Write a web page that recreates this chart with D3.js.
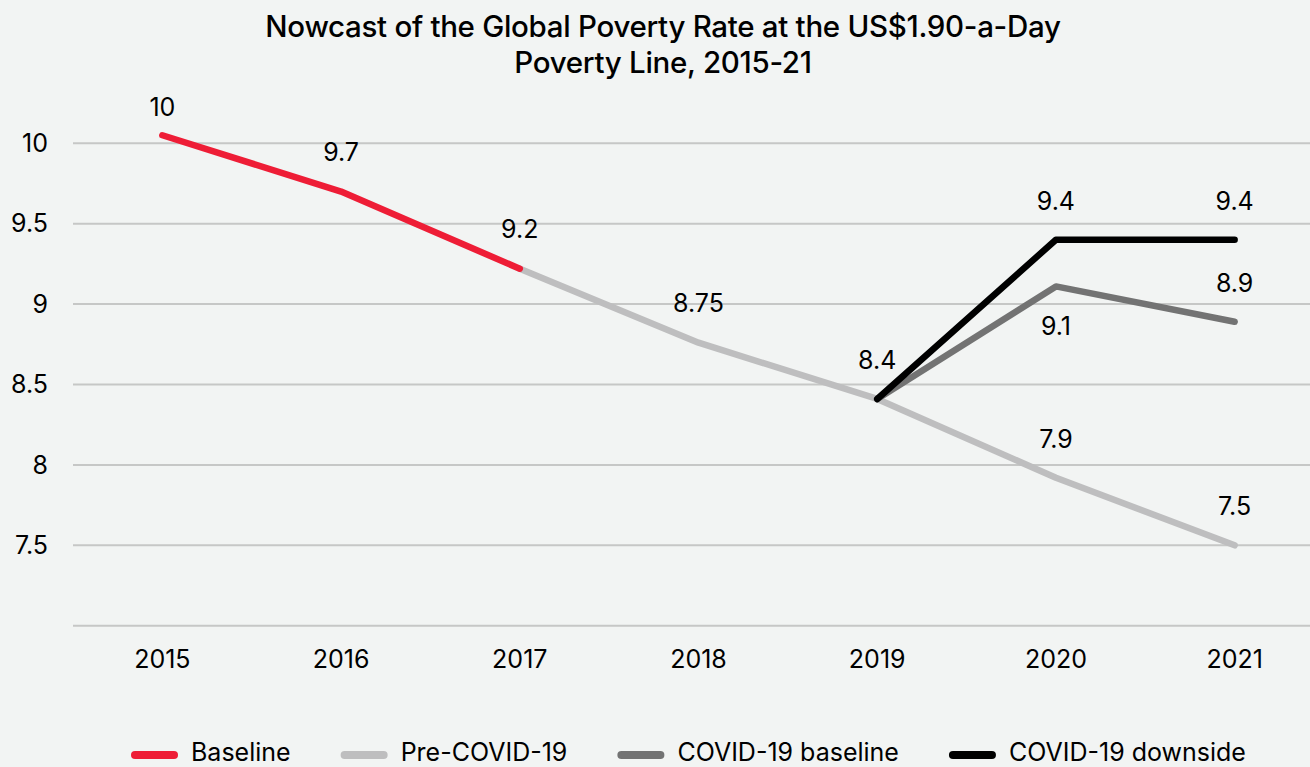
<!DOCTYPE html>
<html>
<head>
<meta charset="utf-8">
<script src="https://cdn.jsdelivr.net/npm/d3@7"></script>
<style>
  html, body { margin: 0; padding: 0; background: #f3f4f3; }
  svg { display: block; font-family: Inter, "Noto Sans", sans-serif; }
</style>
</head>
<body>
<div id="chart"></div>
<script>
// data
const years = ["2015", "2016", "2017", "2018", "2019", "2020", "2021"];
const yTicks = [7.5, 8, 8.5, 9, 9.5, 10];
const gridValues = [7, 7.5, 8, 8.5, 9, 9.5, 10];

const baselineYears = ["2015", "2016", "2017"];
const baselineValues = [10.05, 9.70, 9.22];
const baselineLabels = ["10", "9.7", "9.2"];

const preCovidYears = ["2017", "2018", "2019", "2020", "2021"];
const preCovidValues = [9.22, 8.76, 8.41, 7.92, 7.50];
const preCovidLabels = [null, "8.75", "8.4", "7.9", "7.5"];

const covidBaseYears = ["2019", "2020", "2021"];
const covidBaseValues = [8.41, 9.11, 8.89];
const covidBaseLabels = [null, "9.1", "8.9"];

const covidDownYears = ["2019", "2020", "2021"];
const covidDownValues = [8.41, 9.40, 9.40];
const covidDownLabels = [null, "9.4", "9.4"];

const seriesNames = ["Baseline", "Pre-COVID-19", "COVID-19 baseline", "COVID-19 downside"];
const seriesColors = ["#ee1d36", "#bebebf", "#737373", "#000000"];

const width = 1310, height = 767;

const svg = d3.select("#chart").append("svg")
  .attr("width", width)
  .attr("height", height);

svg.append("rect").attr("width", width).attr("height", height).attr("fill", "#f2f4f3");

// title
const title = svg.append("text")
  .attr("text-anchor", "middle")
  .attr("fill", "#000")
  .style("font-size", "29.5px")
  .style("font-weight", 500)
  .style("letter-spacing", "-0.3px");
title.append("tspan").attr("x", 663).attr("y", 37)
  .text("Nowcast of the Global Poverty Rate at the US$1.90-a-Day");
title.append("tspan").attr("x", 663).attr("y", 73)
  .text("Poverty Line, 2015-21");

let x = d3.scaleBand().domain(years).range([73, 1324]);
let y = d3.scaleLinear().domain([7, 10]).range([625.7, 143.3]);
const cx = d => x(d) + x.bandwidth() / 2;

// gridlines
svg.append("g").selectAll("line")
  .data(gridValues)
  .enter().append("line")
  .attr("x1", 73).attr("x2", width)
  .attr("y1", d => y(d)).attr("y2", d => y(d))
  .attr("stroke", "#c6c7c6")
  .attr("stroke-width", 2);

// y axis labels
svg.append("g").selectAll("text")
  .data(yTicks)
  .enter().append("text")
  .attr("x", 48)
  .attr("y", d => y(d))
  .attr("dy", "0.35em")
  .attr("text-anchor", "end")
  .style("font-size", "25px")
  .text(d => d);

// x axis labels
svg.append("g").selectAll("text")
  .data(years)
  .enter().append("text")
  .attr("x", d => cx(d))
  .attr("y", 668)
  .attr("text-anchor", "middle")
  .style("font-size", "25px")
  .text(d => d);

const series = [
  { years: preCovidYears, values: preCovidValues, labels: preCovidLabels, color: seriesColors[1] },
  { years: baselineYears, values: baselineValues, labels: baselineLabels, color: seriesColors[0] },
  { years: covidBaseYears, values: covidBaseValues, labels: covidBaseLabels, color: seriesColors[2], below: [1] },
  { years: covidDownYears, values: covidDownValues, labels: covidDownLabels, color: seriesColors[3] }
];

let line = d3.line()
  .x(d => cx(d[0]))
  .y(d => y(d[1]));

series.forEach(s => {
  svg.append("path")
    .datum(d3.zip(s.years, s.values))
    .attr("fill", "none")
    .attr("stroke", s.color)
    .attr("stroke-width", 6.5)
    .attr("stroke-linejoin", "round")
    .attr("stroke-linecap", "round")
    .attr("d", line);
});

// data labels
series.forEach(s => {
  s.values.forEach((v, i) => {
    if (s.labels[i] == null) return;
    let off = (s.below && s.below.includes(i)) ? 40 : -39;
    if (s.labels[i] === "10") off = -28;
    svg.append("text")
      .attr("x", cx(s.years[i]))
      .attr("y", y(v) + off)
      .attr("dy", "0.35em")
      .attr("text-anchor", "middle")
      .style("font-size", "25px")
      .text(s.labels[i]);
  });
});

// legend
const legend = svg.append("g");
let lx = 0;
seriesNames.forEach((name, i) => {
  let g = legend.append("g").attr("transform", "translate(" + lx + ",0)");
  g.append("line")
    .attr("x1", 4).attr("x2", 43)
    .attr("y1", 755).attr("y2", 755)
    .attr("stroke", seriesColors[i])
    .attr("stroke-width", 8)
    .attr("stroke-linecap", "round");
  let t = g.append("text")
    .attr("x", 60)
    .attr("y", 761)
    .style("font-size", "25px")
    .text(name);
  lx += 60 + t.node().getComputedTextLength() + 50;
});
legend.attr("transform", "translate(" + (131) + ",0)");
</script>
</body>
</html>
